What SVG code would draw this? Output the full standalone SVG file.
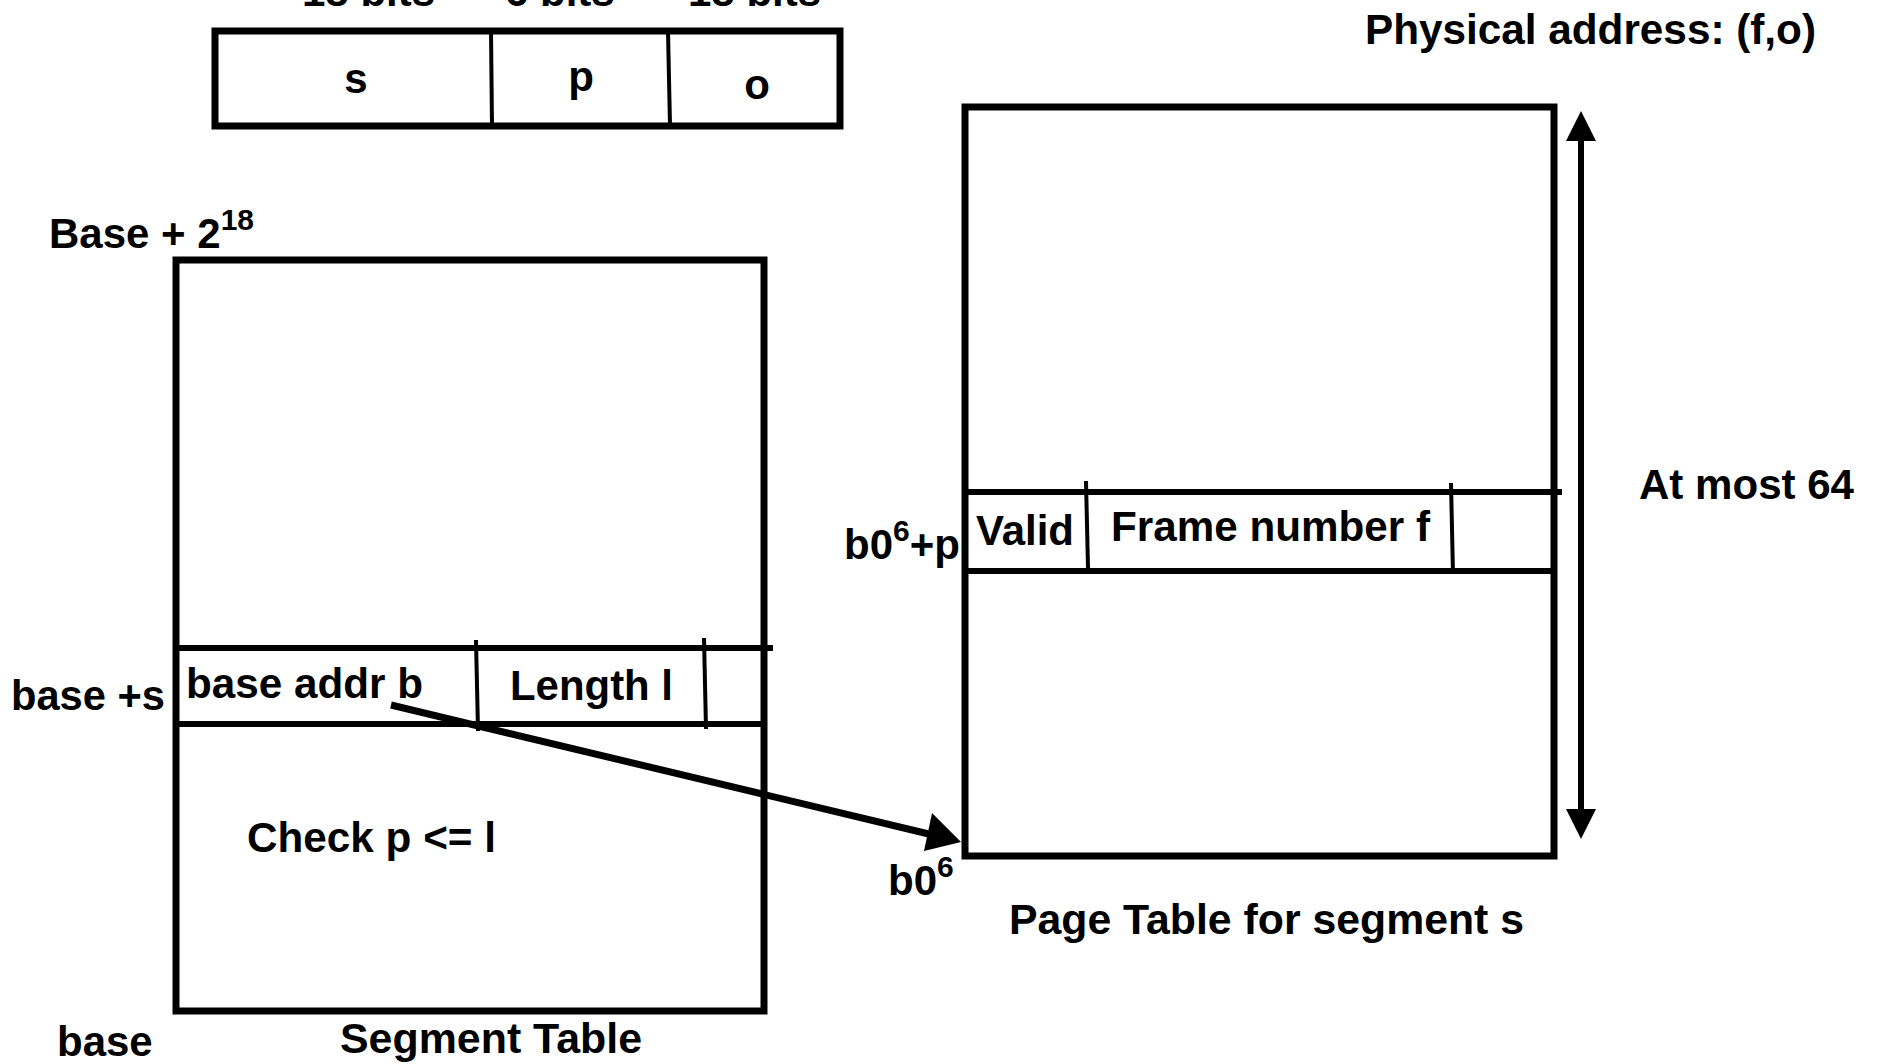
<svg xmlns="http://www.w3.org/2000/svg" width="1877" height="1064" viewBox="0 0 1877 1064">
<defs>
<style>
text{font-family:"Liberation Sans",Arial,sans-serif;font-weight:bold;font-size:42px;fill:#000}
.box{fill:none;stroke:#000;stroke-width:7}
.row{stroke:#000;stroke-width:6}
.div{stroke:#000;stroke-width:4}
.conn{stroke:#000;stroke-width:7;fill:none}
.sup{font-size:30px}
</style>
</defs>
<rect width="1877" height="1064" fill="#fff"/>

<g id="top-labels">
<text x="302" y="6">18 bits</text>
<text x="505" y="6">6 bits</text>
<text x="688" y="6">18 bits</text>
</g>

<g id="virtual-address">
<rect class="box" x="215" y="31" width="625" height="95"/>
<line class="div" x1="491" y1="31" x2="492" y2="126"/>
<line class="div" x1="668" y1="31" x2="670" y2="126"/>
<text x="356" y="93" text-anchor="middle">s</text>
<text x="581" y="91" text-anchor="middle">p</text>
<text x="757" y="99" text-anchor="middle">o</text>
</g>

<g id="physical-address">
<text x="1365" y="44" textLength="451" lengthAdjust="spacingAndGlyphs">Physical address: (f,o)</text>
</g>

<g id="segment-table">
<rect class="box" x="176" y="260" width="588" height="751"/>
<line class="row" x1="176" y1="648" x2="773" y2="648"/>
<line class="row" x1="176" y1="724" x2="767" y2="724"/>
<line class="div" x1="476" y1="640" x2="478" y2="731"/>
<line class="div" x1="704" y1="638" x2="706" y2="729"/>
<text x="186" y="698" textLength="237" lengthAdjust="spacingAndGlyphs">base addr b</text>
<text x="510" y="700" textLength="163" lengthAdjust="spacingAndGlyphs">Length l</text>
<text x="247" y="852" textLength="249" lengthAdjust="spacingAndGlyphs">Check p &lt;= l</text>
<text x="49" y="248">Base + 2<tspan class="sup" dy="-18">18</tspan></text>
<text x="11" y="710" textLength="154" lengthAdjust="spacingAndGlyphs">base +s</text>
<text x="57" y="1056">base</text>
<text x="340" y="1053" textLength="302" lengthAdjust="spacingAndGlyphs">Segment Table</text>
</g>

<g id="page-table">
<rect class="box" x="965" y="107" width="589" height="749"/>
<line class="row" x1="965" y1="492" x2="1562" y2="492"/>
<line class="row" x1="965" y1="571" x2="1557" y2="571"/>
<line class="div" x1="1086" y1="481" x2="1088" y2="568"/>
<line class="div" x1="1451" y1="483" x2="1453" y2="574"/>
<text x="976" y="545" textLength="98" lengthAdjust="spacingAndGlyphs">Valid</text>
<text x="1111" y="541" textLength="319" lengthAdjust="spacingAndGlyphs">Frame number f</text>
<text x="844" y="559">b0<tspan class="sup" dy="-18">6</tspan><tspan dy="18">+p</tspan></text>
<text x="888" y="895">b0<tspan class="sup" dy="-18">6</tspan></text>
<text x="1009" y="934" textLength="515" lengthAdjust="spacingAndGlyphs">Page Table for segment s</text>
<text x="1639" y="499" textLength="215" lengthAdjust="spacingAndGlyphs">At most 64</text>
</g>

<g id="connectors">
<line class="conn" x1="391" y1="705" x2="933" y2="835"/>
<polygon points="961,842 924,851 932,813" fill="#000"/>
<line stroke="#000" stroke-width="6" x1="1581" y1="138" x2="1581" y2="812"/>
<polygon points="1581,111 1566,141 1596,141" fill="#000"/>
<polygon points="1581,839 1566,809 1596,809" fill="#000"/>
</g>
</svg>
